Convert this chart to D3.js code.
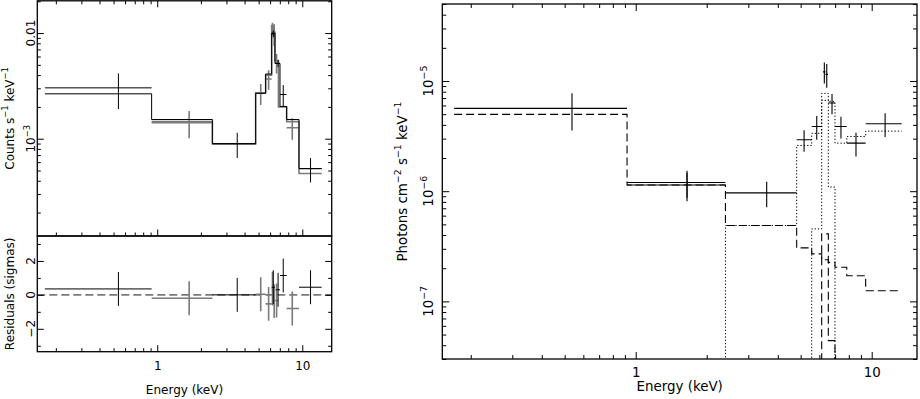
<!DOCTYPE html>
<html>
<head>
<meta charset="utf-8">
<script src="https://cdn.jsdelivr.net/npm/d3@7"></script>
<style>
  body { margin: 0; background: #fff; }
  svg { display: block; }
  text { font-family: "DejaVu Sans", sans-serif; fill: #000; }
</style>
</head>
<body>
<svg width="920" height="399"></svg>
<script>
// ---------------- data ----------------
// left panel, black spectrum (keV bins, counts s-1 keV-1, 1 sigma, residual in sigmas)
var blackLo  = [0.168, 2.40, 6.15, 6.55, 7.02, 9.49];
var blackHi  = [0.915, 4.77, 6.48, 7.02, 7.80, 13.6];
var blackE   = [0.54, 3.56, 6.31, 6.81, 7.39, 11.4];
var blackVal = [3.03e-3, 8.97e-4, 9.85e-3, 5.16e-3, 2.62e-3, 5.21e-4];
var blackErr = [1.12e-3, 2.4e-4, 7.5e-4, 4.0e-4, 6.0e-4, 1.36e-4];
var blackRes = [0.35, 0.0, 0.45, 0.3, 1.14, 0.45];

// left panel, grey spectrum
var greyLo  = [0.915, 4.77, 5.59, 6.15, 6.30, 6.48, 7.80];
var greyHi  = [2.40, 5.59, 6.15, 6.30, 6.48, 6.85, 9.49];
var greyE   = [1.66, 5.17, 5.86, 6.23, 6.40, 6.65, 8.53];
var greyVal = [1.42e-3, 2.69e-3, 3.68e-3, 1.10e-2, 9.85e-3, 5.25e-3, 1.27e-3];
var greyErr = [4.1e-4, 6.0e-4, 7.7e-4, 1.5e-3, 2.3e-3, 1.1e-3, 2.9e-4];
var greyRes = [-0.2, 0.04, -0.53, 0.37, -0.37, -0.33, -0.8];

// folded models (step histograms)
var blackModelEdges = [0.168, 0.915, 2.40, 4.77, 5.59, 6.15, 6.48, 7.02, 7.80, 9.49, 13.6];
var blackModel      = [2.66e-3, 1.52e-3, 8.97e-4, 2.69e-3, 4.10e-3, 1.0e-2, 5.16e-3, 2.02e-3, 1.52e-3, 5.21e-4];
var greyModelEdges  = [0.915, 2.40, 4.77, 5.59, 6.15, 6.30, 6.48, 6.85, 7.80, 9.49, 13.6];
var greyModel       = [1.45e-3, 8.9e-4, 2.72e-3, 4.0e-3, 1.18e-2, 1.02e-2, 5.5e-3, 2.0e-3, 1.45e-3, 4.68e-4];

// right panel, unfolded spectrum (photons cm-2 s-1 keV-1)
var ufLo  = [0.170, 0.919, 0.919, 2.40, 4.81, 5.57, 6.22, 6.37, 6.55, 6.99, 7.84, 9.43];
var ufHi  = [0.919, 2.40, 2.40, 4.81, 5.57, 6.14, 6.37, 6.53, 6.99, 7.84, 9.43, 13.4];
var ufE   = [0.537, 1.65, 1.65, 3.59, 5.17, 5.85, 6.30, 6.45, 6.79, 7.41, 8.58, 11.4];
var ufVal = [5.65e-6, 1.20e-6, 1.14e-6, 9.66e-7, 2.93e-6, 3.87e-6, 1.21e-5, 1.15e-5, 6.31e-6, 3.87e-6, 2.73e-6, 4.1e-6];
var ufErr = [2.09e-6, 3.3e-7, 3.3e-7, 2.5e-7, 6.5e-7, 9.4e-7, 2.6e-6, 2.8e-6, 1.31e-6, 8.6e-7, 6.6e-7, 1.0e-6];

// model components of the unfolded plot
var compEdges = [0.170, 0.919, 2.40, 4.81, 5.57, 6.14, 6.55, 6.99, 7.84, 9.43, 13.4];
var continuum = [4.98e-6, 1.14e-6, 4.88e-7, 3.06e-7, 2.70e-7, 2.39e-7, 2.26e-7, 2.04e-7, 1.71e-7, 1.25e-7];
var hardComp  = [0, 0, 4.88e-7, 2.60e-6, 3.35e-6, 7.73e-6, 6.53e-6, 2.73e-6, 3.14e-6, 3.51e-6];
var lineComp  = [0, 0, 0, 0, 4.55e-7, 6.68e-6, 1.09e-6, 0, 0, 0];
var narrowComp = [0, 0, 0, 0, 0, 4.10e-7, 4.4e-8, 0, 0, 0];

var minus = "\u2212";
var grey = "#7a7a7a";

var svg = d3.select("svg");

// ---------------- scales ----------------
var xL = d3.scaleLog().domain([0.149, 15.95]).range([37.3, 331.7]);
var yTop = d3.scaleLog().domain([1.2e-4, 0.0202]).range([236, 0.8]);
var yRes = d3.scaleLinear().domain([-3.35, 3.47]).range([351.7, 236]);
var xR = d3.scaleLog().domain([0.1515, 15.56]).range([442.3, 917]);
var yR = d3.scaleLog().domain([3e-8, 5e-5]).range([359, 4]);

// ---------------- helpers ----------------
function isDecade(v) { var l = Math.log10(v); return Math.abs(l - Math.round(l)) < 1e-6; }

function frame(x, y) {
  svg.append("rect")
    .attr("x", x.range()[0]).attr("y", y.range()[1])
    .attr("width", x.range()[1] - x.range()[0])
    .attr("height", y.range()[0] - y.range()[1])
    .attr("fill", "none").attr("stroke", "#000").attr("stroke-width", 1.3);
}

function ticks(axisFn, scale, tr, vals, len) {
  svg.append("g").attr("transform", tr)
    .call(axisFn(scale).tickValues(vals).tickSize(-len).tickFormat(""))
    .call(function(a) { a.select(".domain").remove(); a.selectAll("line").attr("stroke-width", 1); });
}

// text with superscripts: parts = [[str, isSup], ...]
function rich(sel, parts, size) {
  var up = false;
  parts.forEach(function(p) {
    var t = sel.append("tspan").text(p[0]);
    if (p[1]) { t.attr("font-size", size * 0.7).attr("dy", up ? 0 : -size * 0.45); up = true; }
    else { t.attr("font-size", size).attr("dy", up ? size * 0.45 : 0); up = false; }
  });
  return sel;
}

function vLabel(x, y, parts, size) {
  var t = svg.append("text").attr("transform", "translate(" + x + "," + y + ") rotate(-90)")
    .attr("text-anchor", "middle");
  rich(t, parts, size);
}

function clipFor(id, x, y) {
  svg.append("clipPath").attr("id", id).append("rect")
    .attr("x", x.range()[0]).attr("y", y.range()[1])
    .attr("width", x.range()[1] - x.range()[0]).attr("height", y.range()[0] - y.range()[1]);
  return "url(#" + id + ")";
}

function stepPath(x, y, edges, vals, floor) {
  var pts = edges.map(function(e, i) { return [e, vals[Math.min(i, vals.length - 1)]]; });
  return d3.line().curve(d3.curveStepAfter)
    .x(function(d) { return x(d[0]); })
    .y(function(d) { return y(Math.max(d[1], floor)); })(pts);
}

function crosses(g, x, y, lo, hi, c, v, err, color, width, floor) {
  var idx = d3.range(v.length);
  g.selectAll(null).data(idx).enter().append("line")
    .attr("x1", function(i) { return x(lo[i]); }).attr("x2", function(i) { return x(hi[i]); })
    .attr("y1", function(i) { return y(v[i]); }).attr("y2", function(i) { return y(v[i]); })
    .attr("stroke", color).attr("stroke-width", width);
  g.selectAll(null).data(idx).enter().append("line")
    .attr("x1", function(i) { return x(c[i]); }).attr("x2", function(i) { return x(c[i]); })
    .attr("y1", function(i) { return y(Math.max(v[i] - err[i], floor)); })
    .attr("y2", function(i) { return y(v[i] + err[i]); })
    .attr("stroke", color).attr("stroke-width", width);
}

// ================= LEFT: folded spectrum =================
var fsL = 12;
var xAll = xL.ticks();
var xMinor = xAll.filter(function(v) { return !isDecade(v); });
var xMajor = xAll.filter(isDecade);

var clipTop = clipFor("clipTop", xL, yTop);
var gTop = svg.append("g").attr("clip-path", clipTop);

gTop.append("path").attr("d", stepPath(xL, yTop, greyModelEdges, greyModel, 1e-6))
  .attr("fill", "none").attr("stroke", grey).attr("stroke-width", 1.6);
crosses(gTop, xL, yTop, greyLo, greyHi, greyE, greyVal, greyErr, grey, 1.6, 1e-6);
gTop.append("path").attr("d", stepPath(xL, yTop, blackModelEdges, blackModel, 1e-6))
  .attr("fill", "none").attr("stroke", "#000").attr("stroke-width", 1);
crosses(gTop, xL, yTop, blackLo, blackHi, blackE, blackVal, blackErr, "#000", 1, 1e-6);

var yTopAll = yTop.ticks();
var yTopMinor = yTopAll.filter(function(v) { return !isDecade(v); });
var yTopMajor = yTopAll.filter(isDecade);
ticks(d3.axisTop, xL, "translate(0," + yTop.range()[1] + ")", xMinor, 3.5);
ticks(d3.axisTop, xL, "translate(0," + yTop.range()[1] + ")", xMajor, 6.5);
ticks(d3.axisBottom, xL, "translate(0," + yTop.range()[0] + ")", xMinor, 3.5);
ticks(d3.axisBottom, xL, "translate(0," + yTop.range()[0] + ")", xMajor, 6.5);
ticks(d3.axisLeft, yTop, "translate(" + xL.range()[0] + ",0)", yTopMinor, 3.5);
ticks(d3.axisLeft, yTop, "translate(" + xL.range()[0] + ",0)", yTopMajor, 6.5);
ticks(d3.axisRight, yTop, "translate(" + xL.range()[1] + ",0)", yTopMinor, 3.5);
ticks(d3.axisRight, yTop, "translate(" + xL.range()[1] + ",0)", yTopMajor, 6.5);
frame(xL, yTop);

vLabel(35, yTop(0.01), [["0.01", false]], fsL);
vLabel(35, yTop(1e-3), [["10", false], [minus + "3", true]], fsL);
vLabel(13.5, (yTop.range()[0] + yTop.range()[1]) / 2,
  [["Counts s", false], [minus + "1", true], [" keV", false], [minus + "1", true]], fsL);

// ---------------- residuals ----------------
var clipRes = clipFor("clipRes", xL, yRes);
var gRes = svg.append("g").attr("clip-path", clipRes);
gRes.append("line")
  .attr("x1", xL.range()[0]).attr("x2", xL.range()[1])
  .attr("y1", yRes(0)).attr("y2", yRes(0))
  .attr("stroke", grey).attr("stroke-width", 1.6).attr("stroke-dasharray", "8,4");
var unitErrGrey = greyRes.map(function() { return 1; });
var unitErrBlack = blackRes.map(function() { return 1; });
crosses(gRes, xL, yRes, greyLo, greyHi, greyE, greyRes, unitErrGrey, grey, 1.6, -10);
crosses(gRes, xL, yRes, blackLo, blackHi, blackE, blackRes, unitErrBlack, "#000", 1, -10);

var resMajor = [-2, 0, 2], resMinor = [-3, -1, 1, 3];
ticks(d3.axisBottom, xL, "translate(0," + yRes.range()[0] + ")", xMinor, 3.5);
ticks(d3.axisBottom, xL, "translate(0," + yRes.range()[0] + ")", xMajor, 6.5);
ticks(d3.axisLeft, yRes, "translate(" + xL.range()[0] + ",0)", resMinor, 3.5);
ticks(d3.axisLeft, yRes, "translate(" + xL.range()[0] + ",0)", resMajor, 6.5);
ticks(d3.axisRight, yRes, "translate(" + xL.range()[1] + ",0)", resMinor, 3.5);
ticks(d3.axisRight, yRes, "translate(" + xL.range()[1] + ",0)", resMajor, 6.5);
frame(xL, yRes);

resMajor.forEach(function(v) {
  vLabel(35, yRes(v), [[(v < 0 ? minus : "") + Math.abs(v), false]], fsL);
});
vLabel(13.5, (yRes.range()[0] + yRes.range()[1]) / 2, [["Residuals (sigmas)", false]], fsL);

svg.append("g").attr("transform", "translate(0," + yRes.range()[0] + ")")
  .call(d3.axisBottom(xL).tickValues(xMajor).tickSize(0).tickPadding(9.5).tickFormat(d3.format("")))
  .call(function(a) { a.select(".domain").remove(); a.selectAll("text").attr("font-size", fsL).attr("font-family", null); });
svg.append("text").attr("x", (xL.range()[0] + xL.range()[1]) / 2).attr("y", 394)
  .attr("text-anchor", "middle").attr("font-size", fsL).text("Energy (keV)");

// ================= RIGHT: unfolded spectrum =================
var fsR = 13.4;
var xRAll = xR.ticks();
var xRMinor = xRAll.filter(function(v) { return !isDecade(v); });
var xRMajor = xRAll.filter(isDecade);
var yRAll = yR.ticks();
var yRMinor = yRAll.filter(function(v) { return !isDecade(v); });
var yRMajor = yRAll.filter(isDecade);

var clipR = clipFor("clipR", xR, yR);
var gR = svg.append("g").attr("clip-path", clipR);
var floorR = 1e-9;
gR.append("path").attr("d", stepPath(xR, yR, compEdges, continuum, floorR))
  .attr("fill", "none").attr("stroke", "#000").attr("stroke-width", 1.1).attr("stroke-dasharray", "8,4");
gR.append("path").attr("d", stepPath(xR, yR, compEdges, narrowComp, floorR))
  .attr("fill", "none").attr("stroke", "#000").attr("stroke-width", 1.1).attr("stroke-dasharray", "8,4");
gR.append("path").attr("d", stepPath(xR, yR, compEdges, hardComp, floorR))
  .attr("fill", "none").attr("stroke", "#000").attr("stroke-width", 1).attr("stroke-dasharray", "1.3,2");
gR.append("path").attr("d", stepPath(xR, yR, compEdges, lineComp, floorR))
  .attr("fill", "none").attr("stroke", "#000").attr("stroke-width", 1).attr("stroke-dasharray", "1.3,2");
crosses(gR, xR, yR, ufLo, ufHi, ufE, ufVal, ufErr, "#000", 1.1, floorR);

ticks(d3.axisTop, xR, "translate(0," + yR.range()[1] + ")", xRMinor, 4);
ticks(d3.axisTop, xR, "translate(0," + yR.range()[1] + ")", xRMajor, 7);
ticks(d3.axisBottom, xR, "translate(0," + yR.range()[0] + ")", xRMinor, 4);
ticks(d3.axisBottom, xR, "translate(0," + yR.range()[0] + ")", xRMajor, 7);
ticks(d3.axisLeft, yR, "translate(" + xR.range()[0] + ",0)", yRMinor, 4);
ticks(d3.axisLeft, yR, "translate(" + xR.range()[0] + ",0)", yRMajor, 7);
ticks(d3.axisRight, yR, "translate(" + xR.range()[1] + ",0)", yRMinor, 4);
ticks(d3.axisRight, yR, "translate(" + xR.range()[1] + ",0)", yRMajor, 7);
frame(xR, yR);

yRMajor.forEach(function(v) {
  vLabel(433, yR(v), [["10", false], [minus + Math.round(-Math.log10(v)), true]], fsR);
});
vLabel(407, (yR.range()[0] + yR.range()[1]) / 2,
  [["Photons cm", false], [minus + "2", true], [" s", false], [minus + "1", true], [" keV", false], [minus + "1", true]], fsR);

svg.append("g").attr("transform", "translate(0," + yR.range()[0] + ")")
  .call(d3.axisBottom(xR).tickValues(xRMajor).tickSize(0).tickPadding(8).tickFormat(d3.format("")))
  .call(function(a) { a.select(".domain").remove(); a.selectAll("text").attr("font-size", fsR).attr("font-family", null); });
svg.append("text").attr("x", (xR.range()[0] + xR.range()[1]) / 2).attr("y", 391)
  .attr("text-anchor", "middle").attr("font-size", fsR).text("Energy (keV)");
</script>
</body>
</html>
